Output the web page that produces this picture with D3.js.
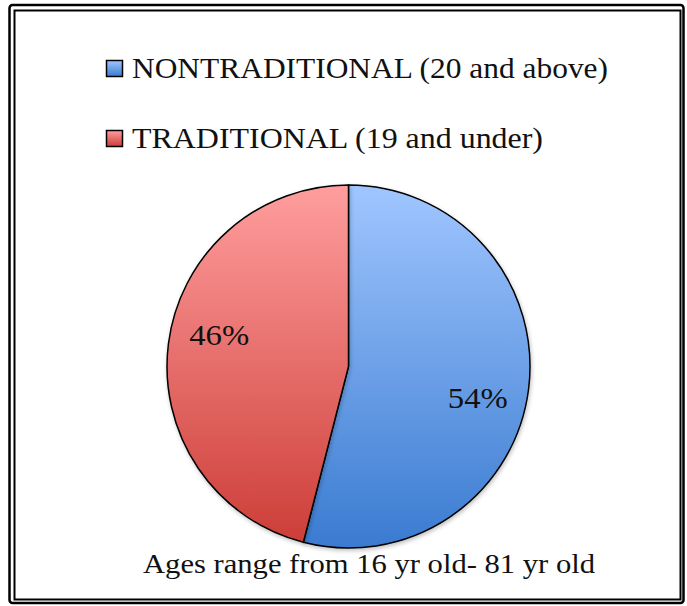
<!DOCTYPE html>
<html>
<head>
<meta charset="utf-8">
<script src="https://cdn.jsdelivr.net/npm/d3@7"></script>
<style>
  body { margin: 0; background: #fff; }
  svg text { font-family: "Liberation Serif", "DejaVu Serif", serif; fill: #111; }
</style>
</head>
<body>
<div id="chart"></div>
<script>
// Data
const categories = ['NONTRADITIONAL (20 and above)', 'TRADITIONAL (19 and under)'];
const values = [54, 46];
const percentLabels = ['54%', '46%'];
const footnote = 'Ages range from 16 yr old- 81 yr old';

const W = 687, H = 606;
const svg = d3.select('#chart').append('svg')
    .attr('width', W)
    .attr('height', H);

const defs = svg.append('defs');

// Gradients (light at top, darker at bottom)
const gradColors = [
    ['#a0c6ff', '#3a7bd0'],
    ['#ff9e9e', '#cc3c36']
];
gradColors.forEach((c, i) => {
    const g = defs.append('linearGradient')
        .attr('id', 'grad' + i)
        .attr('x1', 0).attr('y1', 0)
        .attr('x2', 0).attr('y2', 1);
    g.append('stop').attr('offset', '0%').attr('stop-color', c[0]);
    g.append('stop').attr('offset', '100%').attr('stop-color', c[1]);
});

// Pie gradient across the whole pie box
gradColors.forEach((c, i) => {
    const g = defs.append('linearGradient')
        .attr('id', 'pgrad' + i)
        .attr('gradientUnits', 'userSpaceOnUse')
        .attr('x1', 0).attr('y1', -182)
        .attr('x2', 0).attr('y2', 182);
    g.append('stop').attr('offset', '0%').attr('stop-color', c[0]);
    g.append('stop').attr('offset', '100%').attr('stop-color', c[1]);
});

const shadow = defs.append('filter').attr('id', 'shadow')
    .attr('x', '-10%').attr('y', '-10%').attr('width', '120%').attr('height', '120%');
shadow.append('feGaussianBlur').attr('in', 'SourceAlpha').attr('stdDeviation', 2);
shadow.append('feOffset').attr('dx', 1).attr('dy', 2).attr('result', 'b');
shadow.append('feComponentTransfer').append('feFuncA').attr('type', 'linear').attr('slope', 0.25);
const merge = shadow.append('feMerge');
merge.append('feMergeNode');
merge.append('feMergeNode').attr('in', 'SourceGraphic');

// Double frame
svg.append('rect')
    .attr('x', 9.5).attr('y', 5)
    .attr('width', 674).attr('height', 598)
    .attr('rx', 3)
    .attr('fill', 'none')
    .attr('stroke', '#000')
    .attr('stroke-width', 2.5);
svg.append('rect')
    .attr('x', 14.5).attr('y', 10.5)
    .attr('width', 666).attr('height', 589)
    .attr('fill', 'none')
    .attr('stroke', '#000')
    .attr('stroke-width', 2);

function fitText(sel, w) {
    sel.attr('textLength', w).attr('lengthAdjust', 'spacingAndGlyphs');
}

// Legend
const legend = svg.append('g');
const legendRows = [
    {y: 60, width: 476},
    {y: 130, width: 411}
];
categories.forEach((c, i) => {
    const g = legend.append('g')
        .attr('transform', `translate(106, ${legendRows[i].y})`);
    g.append('rect')
        .attr('x', 0.5).attr('y', 0.5)
        .attr('width', 16).attr('height', 16)
        .attr('fill', `url(#grad${i})`)
        .attr('stroke', '#000')
        .attr('stroke-width', 1.5);
    g.append('text')
        .attr('x', 26)
        .attr('y', 18)
        .style('font-size', '30px')
        .text(c)
        .call(fitText, legendRows[i].width);
});

// Pie
const cx = 348.5, cy = 366.5, r = 181.5;
const pie = d3.pie().sort(null).value(d => d);
const arcs = pie(values);
const arc = d3.arc().innerRadius(0).outerRadius(r);
const labelArc = d3.arc().innerRadius(0).outerRadius(266);

const pg = svg.append('g')
    .attr('transform', `translate(${cx},${cy})`);

pg.selectAll('path.slice')
    .data(arcs)
  .enter().append('path')
    .attr('class', 'slice')
    .attr('d', arc)
    .attr('fill', (d, i) => `url(#pgrad${i})`)
    .attr('stroke', '#000')
    .attr('stroke-width', 1.5)
    .attr('filter', 'url(#shadow)');

pg.selectAll('text.pct')
    .data(arcs)
  .enter().append('text')
    .attr('class', 'pct')
    .attr('transform', d => {
        const shift = 0.11;
        const c = labelArc.centroid({startAngle: d.startAngle + shift, endAngle: d.endAngle + shift});
        return `translate(${c[0]},${c[1] + 10})`;
    })
    .attr('text-anchor', 'middle')
    .style('font-size', '30px')
    .text((d, i) => percentLabels[i])
    .call(fitText, 60);

// Footnote
svg.append('text')
    .attr('x', 143)
    .attr('y', 573)
    .style('font-size', '28px')
    .text(footnote)
    .call(fitText, 452);
</script>
</body>
</html>
